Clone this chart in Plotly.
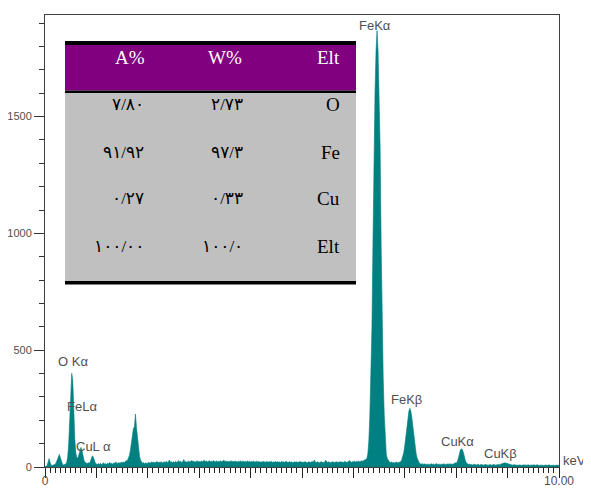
import plotly.graph_objects as go

# ---------------- data ----------------
channel_width_kev = 0.02
counts = [
    # 0.00 - 0.48
    0, 2, 6, 20, 36, 18, 8, 6, 7, 9, 12, 20, 35, 50, 54, 40, 22, 12, 9, 10, 12, 18, 40, 95, 180,
    # 0.50 - 0.98
    300, 401, 370, 230, 120, 60, 40, 38, 55, 75, 84, 70, 45, 28, 20, 17, 15, 18, 16, 22, 34, 48, 42, 28, 17,
    # 1.00 - 1.48
    13, 11, 15, 12, 16, 10, 14, 18, 12, 15, 11, 17, 13, 20, 14, 16, 12, 18, 15, 22, 14, 17, 19, 15, 21,
    # 1.50 - 1.98
    17, 22, 18, 24, 28, 26, 35, 48, 70, 100, 135, 165, 172, 227, 168, 120, 75, 45, 28, 22, 16, 19, 14, 18, 15,
    # 2.00 - 2.48
    17, 20, 16, 19, 22, 18, 21, 17, 20, 24, 18, 21, 19, 23, 17, 20, 22, 18, 25, 19, 21, 30, 20, 23, 18,
    # 2.50 - 2.98
    22, 19, 24, 20, 23, 27, 21, 25, 19, 22, 32, 21, 24, 20, 23, 26, 21, 24, 28, 22, 25, 20, 23, 27, 22,
    # 3.00 - 3.48
    24, 21, 26, 22, 25, 29, 23, 26, 21, 24, 27, 22, 25, 23, 28, 21, 24, 26, 22, 25, 23, 27, 21, 24, 30,
    # 3.50 - 3.98
    23, 26, 22, 25, 21, 24, 27, 23, 25, 22, 26, 24, 21, 25, 23, 27, 22, 24, 26, 21, 24, 23, 26, 22, 25,
    # 4.00 - 4.48
    21, 24, 22, 26, 20, 23, 25, 21, 24, 22, 20, 23, 21, 25, 19, 22, 24, 20, 23, 21, 25, 19, 22, 20, 24,
    # 4.50 - 4.98
    21, 23, 20, 22, 19, 24, 21, 23, 20, 22, 25, 19, 21, 23, 20, 22, 18, 21, 23, 20, 22, 19, 21, 24, 20,
    # 5.00 - 5.48
    22, 19, 21, 23, 20, 18, 21, 22, 19, 21, 24, 20, 30, 21, 19, 22, 20, 18, 21, 23, 19, 21, 20, 29, 21,
    # 5.50 - 5.98
    19, 22, 20, 18, 21, 23, 19, 21, 20, 22, 19, 21, 23, 20, 22, 19, 21, 24, 20, 22, 21, 28, 22, 20, 23,
    # 6.00 - 6.48
    22, 25, 21, 24, 23, 26, 22, 24, 27, 25, 28, 30, 32, 35, 55, 110, 223, 380, 590, 950, 1367, 1600, 1780, 1868, 1780,
    # 6.50 - 6.98
    1600, 1367, 950, 590, 380, 223, 110, 55, 35, 26, 22, 19, 21, 18, 20, 17, 19, 21, 18, 20, 19, 22, 30, 42, 62,
    # 7.00 - 7.48
    92, 130, 175, 215, 240, 251, 236, 205, 165, 125, 88, 58, 38, 26, 18, 14, 12, 15, 11, 13, 12, 14, 11, 13, 10,
    # 7.50 - 7.98
    12, 14, 11, 13, 10, 12, 15, 11, 13, 12, 10, 13, 11, 14, 12, 10, 13, 11, 12, 14, 11, 13, 12, 15, 18,
    # 8.00 - 8.48
    16, 22, 35, 55, 72, 78, 75, 62, 42, 26, 17, 13, 11, 12, 10, 11, 9, 12, 10, 11, 9, 12, 10, 8, 11,
    # 8.50 - 8.98
    9, 10, 8, 11, 9, 10, 8, 9, 11, 8, 10, 9, 11, 8, 10, 9, 11, 10, 12, 13, 15, 16, 18, 17, 16,
    # 9.00 - 9.48
    14, 12, 10, 9, 11, 8, 10, 9, 8, 10, 7, 9, 8, 10, 7, 9, 8, 7, 9, 8, 10, 7, 8, 9, 7,
    # 9.50 - 9.98
    8, 9, 7, 8, 10, 7, 8, 9, 7, 8, 6, 8, 9, 7, 8, 7, 9, 6, 8, 7, 8, 6, 8, 7, 8,
    # 10.00
    7,
]
energy_kev = [round(i * channel_width_kev, 2) for i in range(len(counts))]

y_tick_values = [0, 500, 1000, 1500]
x_tick_values = [0, 1, 2, 3, 4, 5, 6, 7, 8, 9, 10]
x_tick_labels = ["0", "", "", "", "", "", "", "", "", "", "10.00"]

peak_labels = ["FeK\u03b1", "O K\u03b1", "FeL\u03b1", "CuL \u03b1", "FeK\u03b2", "CuK\u03b1", "CuK\u03b2"]
peak_label_kev = [6.42, 0.545, 0.72, 0.95, 7.04, 8.02, 8.87]
peak_label_counts = [1890, 450, 261, 86, 291, 111, 56]

table_header = ["A%", "W%", "Elt"]
a_pct = ["\u06f7/\u06f8\u06f0", "\u06f9\u06f1/\u06f9\u06f2", "\u06f0/\u06f2\u06f7", "\u06f1\u06f0\u06f0/\u06f0\u06f0"]
w_pct = ["\u06f2/\u06f7\u06f3", "\u06f9\u06f7/\u06f3", "\u06f0/\u06f3\u06f3", "\u06f1\u06f0\u06f0/\u06f0"]
elements = ["O", "Fe", "Cu", "Elt"]

# ---------------- layout helpers ----------------
# The page has an 8px body margin, so the figure is shrunk by that offset.
PAGE_OFF = 8
W, H = 591 - PAGE_OFF, 491 - PAGE_OFF
# plot-area edges in reference (window) pixels
L, R, T, B = 45, 559, 15, 467


def pxx(x):
    return (x - L) / (R - L)


def pxy(y):
    return (B - y) / (B - T)


TEAL = "#008080"
AX = "#404040"
SANS = "Liberation Sans, Arial, sans-serif"
SERIF = "Liberation Serif, Times New Roman, serif"
DIGITS = "Liberation Serif, DejaVu Sans, serif"

fig = go.Figure()
fig.add_trace(go.Scatter(
    x=energy_kev, y=counts, mode="lines",
    line=dict(color=TEAL, width=0.6),
    fill="tozeroy", fillcolor=TEAL,
    hoverinfo="skip", showlegend=False,
))

shapes = []


def rect(x0, y0, x1, y1, color):
    shapes.append(dict(type="rect", xref="paper", yref="paper",
                       x0=pxx(x0), x1=pxx(x1), y0=pxy(y1), y1=pxy(y0),
                       fillcolor=color, line=dict(width=0), layer="above"))


rect(65, 41, 356, 45, "#000000")
rect(65, 45, 356, 90.5, "#800080")
rect(65, 90.5, 356, 93, "#000000")
rect(65, 93, 356, 281, "#C0C0C0")
rect(65, 281, 356, 284.5, "#000000")

annotations = []
for txt, xv, yv in zip(peak_labels, peak_label_kev, peak_label_counts):
    annotations.append(dict(x=xv, y=yv, xref="x", yref="y", text=txt, showarrow=False,
                            xanchor="center", yanchor="middle",
                            font=dict(family=SANS, size=13, color="#505050")))
annotations.append(dict(x=pxx(574), y=pxy(460), xref="paper", yref="paper", text="keV",
                        showarrow=False, xanchor="center", yanchor="middle",
                        font=dict(family=SANS, size=13, color="#505050")))

# table header
header_x = [130, 225, 342]
header_anchor = ["center", "center", "right"]
for txt, hx, anc in zip(table_header, header_x, header_anchor):
    annotations.append(dict(x=pxx(hx), y=pxy(58), xref="paper", yref="paper", text=txt,
                            showarrow=False, xanchor=anc, yanchor="middle",
                            font=dict(family=SERIF, size=19, color="#FFFFFF")))

row_y = [105, 152, 198, 246]
for i, ry in enumerate(row_y):
    for txt, cx, fam, sz in ((a_pct[i], 146, DIGITS, 17), (w_pct[i], 245, DIGITS, 17),
                             (elements[i], 342, SERIF, 19)):
        annotations.append(dict(x=pxx(cx), y=pxy(ry), xref="paper", yref="paper", text=txt,
                                showarrow=False, xanchor="right", yanchor="middle",
                                font=dict(family=fam, size=sz, color="#000000")))

fig.update_layout(
    width=W, height=H,
    margin=dict(l=L - PAGE_OFF, r=W - (R - PAGE_OFF), t=T - PAGE_OFF, b=H - (B - PAGE_OFF),
                pad=0, autoexpand=False),
    paper_bgcolor="white", plot_bgcolor="white",
    shapes=shapes, annotations=annotations,
    showlegend=False,
    xaxis=dict(
        range=[0, 10], tickmode="array", tickvals=x_tick_values, ticktext=x_tick_labels,
        ticks="outside", ticklen=10, tickwidth=1, tickcolor="#222",
        showline=True, linecolor=AX, linewidth=1, mirror=True,
        showgrid=False, zeroline=False, automargin=False,
        ticklabelstandoff=-7,
        tickfont=dict(family=SANS, size=12, color="#505050"),
        minor=dict(tickmode="linear", tick0=0, dtick=0.1, ticks="outside",
                   ticklen=5, tickwidth=1, tickcolor="#222", showgrid=False),
    ),
    yaxis=dict(
        range=[0, 1935], tickmode="array", tickvals=y_tick_values,
        ticks="outside", ticklen=10, tickwidth=1, tickcolor="#333",
        showline=True, linecolor=AX, linewidth=1, mirror=True,
        showgrid=False, zeroline=False, automargin=False,
        tickfont=dict(family=SANS, size=11, color="#505050"),
        minor=dict(tickmode="linear", tick0=0, dtick=100, ticks="outside",
                   ticklen=5, tickwidth=1, tickcolor="#333", showgrid=False),
    ),
)

fig.write_html("out.html")
